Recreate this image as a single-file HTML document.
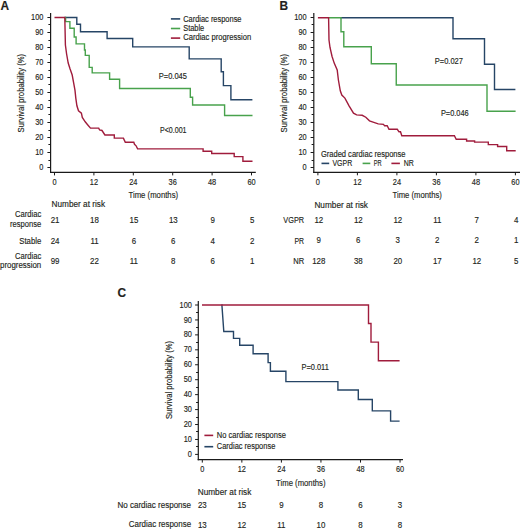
<!DOCTYPE html>
<html><head><meta charset="utf-8"><style>
html,body{margin:0;padding:0;background:#fff;}
svg{display:block;}
text{font-family:"Liberation Sans",sans-serif;fill:#231f20;stroke:#231f20;stroke-width:0.15;}
</style></head><body>
<svg width="520" height="530" viewBox="0 0 520 530">
<rect width="520" height="530" fill="#fff"/>
<line x1="50.60" y1="13.00" x2="50.60" y2="173.00" stroke="#1a1a1a" stroke-width="1.2"/>
<line x1="50.00" y1="172.40" x2="255.80" y2="172.40" stroke="#1a1a1a" stroke-width="1.2"/>
<line x1="47.40" y1="167.50" x2="50.60" y2="167.50" stroke="#1a1a1a" stroke-width="1.0"/>
<text x="43.40" y="170.10" font-size="8.5" text-anchor="end" textLength="4.11" lengthAdjust="spacingAndGlyphs">0</text>
<line x1="48.40" y1="160.50" x2="50.60" y2="160.50" stroke="#1a1a1a" stroke-width="1.0"/>
<line x1="47.40" y1="152.50" x2="50.60" y2="152.50" stroke="#1a1a1a" stroke-width="1.0"/>
<text x="43.40" y="155.10" font-size="8.5" text-anchor="end" textLength="8.22" lengthAdjust="spacingAndGlyphs">10</text>
<line x1="48.40" y1="144.50" x2="50.60" y2="144.50" stroke="#1a1a1a" stroke-width="1.0"/>
<line x1="47.40" y1="137.50" x2="50.60" y2="137.50" stroke="#1a1a1a" stroke-width="1.0"/>
<text x="43.40" y="140.10" font-size="8.5" text-anchor="end" textLength="8.22" lengthAdjust="spacingAndGlyphs">20</text>
<line x1="48.40" y1="130.50" x2="50.60" y2="130.50" stroke="#1a1a1a" stroke-width="1.0"/>
<line x1="47.40" y1="122.50" x2="50.60" y2="122.50" stroke="#1a1a1a" stroke-width="1.0"/>
<text x="43.40" y="125.10" font-size="8.5" text-anchor="end" textLength="8.22" lengthAdjust="spacingAndGlyphs">30</text>
<line x1="48.40" y1="114.50" x2="50.60" y2="114.50" stroke="#1a1a1a" stroke-width="1.0"/>
<line x1="47.40" y1="107.50" x2="50.60" y2="107.50" stroke="#1a1a1a" stroke-width="1.0"/>
<text x="43.40" y="110.10" font-size="8.5" text-anchor="end" textLength="8.22" lengthAdjust="spacingAndGlyphs">40</text>
<line x1="48.40" y1="100.50" x2="50.60" y2="100.50" stroke="#1a1a1a" stroke-width="1.0"/>
<line x1="47.40" y1="92.50" x2="50.60" y2="92.50" stroke="#1a1a1a" stroke-width="1.0"/>
<text x="43.40" y="95.10" font-size="8.5" text-anchor="end" textLength="8.22" lengthAdjust="spacingAndGlyphs">50</text>
<line x1="48.40" y1="84.50" x2="50.60" y2="84.50" stroke="#1a1a1a" stroke-width="1.0"/>
<line x1="47.40" y1="77.50" x2="50.60" y2="77.50" stroke="#1a1a1a" stroke-width="1.0"/>
<text x="43.40" y="80.10" font-size="8.5" text-anchor="end" textLength="8.22" lengthAdjust="spacingAndGlyphs">60</text>
<line x1="48.40" y1="70.50" x2="50.60" y2="70.50" stroke="#1a1a1a" stroke-width="1.0"/>
<line x1="47.40" y1="62.50" x2="50.60" y2="62.50" stroke="#1a1a1a" stroke-width="1.0"/>
<text x="43.40" y="65.10" font-size="8.5" text-anchor="end" textLength="8.22" lengthAdjust="spacingAndGlyphs">70</text>
<line x1="48.40" y1="54.50" x2="50.60" y2="54.50" stroke="#1a1a1a" stroke-width="1.0"/>
<line x1="47.40" y1="47.50" x2="50.60" y2="47.50" stroke="#1a1a1a" stroke-width="1.0"/>
<text x="43.40" y="50.10" font-size="8.5" text-anchor="end" textLength="8.22" lengthAdjust="spacingAndGlyphs">80</text>
<line x1="48.40" y1="40.50" x2="50.60" y2="40.50" stroke="#1a1a1a" stroke-width="1.0"/>
<line x1="47.40" y1="32.50" x2="50.60" y2="32.50" stroke="#1a1a1a" stroke-width="1.0"/>
<text x="43.40" y="35.10" font-size="8.5" text-anchor="end" textLength="8.22" lengthAdjust="spacingAndGlyphs">90</text>
<line x1="48.40" y1="24.50" x2="50.60" y2="24.50" stroke="#1a1a1a" stroke-width="1.0"/>
<line x1="47.40" y1="17.50" x2="50.60" y2="17.50" stroke="#1a1a1a" stroke-width="1.0"/>
<text x="43.40" y="20.10" font-size="8.5" text-anchor="end" textLength="12.34" lengthAdjust="spacingAndGlyphs">100</text>
<line x1="54.50" y1="172.40" x2="54.50" y2="175.40" stroke="#1a1a1a" stroke-width="1.0"/>
<text x="54.50" y="184.70" font-size="8.5" text-anchor="middle" textLength="4.11" lengthAdjust="spacingAndGlyphs">0</text>
<line x1="93.90" y1="172.40" x2="93.90" y2="175.40" stroke="#1a1a1a" stroke-width="1.0"/>
<text x="93.90" y="184.70" font-size="8.5" text-anchor="middle" textLength="8.22" lengthAdjust="spacingAndGlyphs">12</text>
<line x1="133.30" y1="172.40" x2="133.30" y2="175.40" stroke="#1a1a1a" stroke-width="1.0"/>
<text x="133.30" y="184.70" font-size="8.5" text-anchor="middle" textLength="8.22" lengthAdjust="spacingAndGlyphs">24</text>
<line x1="172.70" y1="172.40" x2="172.70" y2="175.40" stroke="#1a1a1a" stroke-width="1.0"/>
<text x="172.70" y="184.70" font-size="8.5" text-anchor="middle" textLength="8.22" lengthAdjust="spacingAndGlyphs">36</text>
<line x1="212.10" y1="172.40" x2="212.10" y2="175.40" stroke="#1a1a1a" stroke-width="1.0"/>
<text x="212.10" y="184.70" font-size="8.5" text-anchor="middle" textLength="8.22" lengthAdjust="spacingAndGlyphs">48</text>
<line x1="251.50" y1="172.40" x2="251.50" y2="175.40" stroke="#1a1a1a" stroke-width="1.0"/>
<text x="251.50" y="184.70" font-size="8.5" text-anchor="middle" textLength="8.22" lengthAdjust="spacingAndGlyphs">60</text>
<text transform="translate(23.60,93.15) rotate(-90)" x="-39.25" y="0" font-size="8.2" textLength="78.50" lengthAdjust="spacingAndGlyphs">Survival probability (%)</text>
<text x="128.50" y="198.30" font-size="9.3" textLength="49.60" lengthAdjust="spacingAndGlyphs">Time (months)</text>
<path d="M64.3,17.5 H76.8 V24.2 H80.5 V31.8 H107.1 V38.5 H132.7 V46.9 H189.2 V58.9 H221.2 V71.8 H223.4 V85.6 H230.9 V99.8 H252.4" fill="none" stroke="#264566" stroke-width="1.4" stroke-linejoin="miter"/>
<path d="M65.0,17.5 H65.6 V21.6 H69.9 V28.2 H74.2 V37 H76.1 V43.9 H84.5 V50 H85.3 V55.4 H89.2 V67.4 H92.2 V72.9 H109.6 V79.3 H119.6 V88.5 H190.3 V97.2 H192.6 V105 H224.6 V115.5 H252.5" fill="none" stroke="#48a24c" stroke-width="1.4" stroke-linejoin="miter"/>
<path d="M54.5,17.5 H64.8 L65.4,45 L66.6,54 L68.2,63 L70.1,69 L72.2,75 L73.6,82.7 L75,90.4 L75.8,98.1 L76.9,105.8 L78.5,110.8 L81.4,113.2 L82.3,117.5 L85.2,121.8 L87.6,124.7 L90.5,128.1 H98.7 L99.6,130 L102,130.5 L104.9,135 H114.3 V138.1 H123.4 L124.2,139.9 L125.3,142.2 H133.8 L134.5,144.3 L136.1,145.8 L137.6,148.9 H203.1 V151.2 H211.7 V153.5 H234.2 V156.6 H242.9 V161.3 H252.5" fill="none" stroke="#a01c3c" stroke-width="1.4" stroke-linejoin="miter"/>
<line x1="170.90" y1="18.90" x2="180.20" y2="18.90" stroke="#264566" stroke-width="1.6"/>
<text x="183.20" y="21.60" font-size="8.3" textLength="58.30" lengthAdjust="spacingAndGlyphs">Cardiac response</text>
<line x1="170.90" y1="28.50" x2="180.20" y2="28.50" stroke="#48a24c" stroke-width="1.6"/>
<text x="183.20" y="31.00" font-size="8.3" textLength="21.00" lengthAdjust="spacingAndGlyphs">Stable</text>
<line x1="170.90" y1="38.10" x2="180.20" y2="38.10" stroke="#a01c3c" stroke-width="1.6"/>
<text x="183.20" y="40.40" font-size="8.3" textLength="68.00" lengthAdjust="spacingAndGlyphs">Cardiac progression</text>
<text x="158.80" y="78.60" font-size="8.3" textLength="28.10" lengthAdjust="spacingAndGlyphs">P=0.045</text>
<text x="160.00" y="132.60" font-size="8.3" textLength="26.50" lengthAdjust="spacingAndGlyphs">P&lt;0.001</text>
<text x="51.60" y="207.30" font-size="8.3" textLength="53.40" lengthAdjust="spacingAndGlyphs">Number at risk</text>
<text x="15.00" y="217.40" font-size="8.3" textLength="26.20" lengthAdjust="spacingAndGlyphs">Cardiac</text>
<text x="10.00" y="227.00" font-size="8.3" textLength="31.20" lengthAdjust="spacingAndGlyphs">response</text>
<text x="19.30" y="243.60" font-size="8.3" textLength="21.90" lengthAdjust="spacingAndGlyphs">Stable</text>
<text x="15.00" y="258.60" font-size="8.3" textLength="26.20" lengthAdjust="spacingAndGlyphs">Cardiac</text>
<text x="0.00" y="268.00" font-size="8.3" textLength="41.20" lengthAdjust="spacingAndGlyphs">progression</text>
<text x="55.10" y="222.60" font-size="9.1" text-anchor="middle" textLength="8.81" lengthAdjust="spacingAndGlyphs">21</text>
<text x="94.50" y="222.60" font-size="9.1" text-anchor="middle" textLength="8.81" lengthAdjust="spacingAndGlyphs">18</text>
<text x="133.90" y="222.60" font-size="9.1" text-anchor="middle" textLength="8.81" lengthAdjust="spacingAndGlyphs">15</text>
<text x="173.30" y="222.60" font-size="9.1" text-anchor="middle" textLength="8.81" lengthAdjust="spacingAndGlyphs">13</text>
<text x="212.70" y="222.60" font-size="9.1" text-anchor="middle" textLength="4.40" lengthAdjust="spacingAndGlyphs">9</text>
<text x="252.10" y="222.60" font-size="9.1" text-anchor="middle" textLength="4.40" lengthAdjust="spacingAndGlyphs">5</text>
<text x="55.10" y="243.60" font-size="9.1" text-anchor="middle" textLength="8.81" lengthAdjust="spacingAndGlyphs">24</text>
<text x="94.50" y="243.60" font-size="9.1" text-anchor="middle" textLength="8.22" lengthAdjust="spacingAndGlyphs">11</text>
<text x="133.90" y="243.60" font-size="9.1" text-anchor="middle" textLength="4.40" lengthAdjust="spacingAndGlyphs">6</text>
<text x="173.30" y="243.60" font-size="9.1" text-anchor="middle" textLength="4.40" lengthAdjust="spacingAndGlyphs">6</text>
<text x="212.70" y="243.60" font-size="9.1" text-anchor="middle" textLength="4.40" lengthAdjust="spacingAndGlyphs">4</text>
<text x="252.10" y="243.60" font-size="9.1" text-anchor="middle" textLength="4.40" lengthAdjust="spacingAndGlyphs">2</text>
<text x="55.10" y="263.90" font-size="9.1" text-anchor="middle" textLength="8.81" lengthAdjust="spacingAndGlyphs">99</text>
<text x="94.50" y="263.90" font-size="9.1" text-anchor="middle" textLength="8.81" lengthAdjust="spacingAndGlyphs">22</text>
<text x="133.90" y="263.90" font-size="9.1" text-anchor="middle" textLength="8.22" lengthAdjust="spacingAndGlyphs">11</text>
<text x="173.30" y="263.90" font-size="9.1" text-anchor="middle" textLength="4.40" lengthAdjust="spacingAndGlyphs">8</text>
<text x="212.70" y="263.90" font-size="9.1" text-anchor="middle" textLength="4.40" lengthAdjust="spacingAndGlyphs">6</text>
<text x="252.10" y="263.90" font-size="9.1" text-anchor="middle" textLength="4.40" lengthAdjust="spacingAndGlyphs">1</text>
<text x="0.40" y="10.00" font-size="11.9" font-weight="bold">A</text>
<line x1="313.80" y1="13.00" x2="313.80" y2="172.90" stroke="#1a1a1a" stroke-width="1.2"/>
<line x1="313.20" y1="172.30" x2="520.00" y2="172.30" stroke="#1a1a1a" stroke-width="1.2"/>
<line x1="310.60" y1="167.50" x2="313.80" y2="167.50" stroke="#1a1a1a" stroke-width="1.0"/>
<text x="306.60" y="170.10" font-size="8.5" text-anchor="end" textLength="4.11" lengthAdjust="spacingAndGlyphs">0</text>
<line x1="311.60" y1="160.50" x2="313.80" y2="160.50" stroke="#1a1a1a" stroke-width="1.0"/>
<line x1="310.60" y1="152.50" x2="313.80" y2="152.50" stroke="#1a1a1a" stroke-width="1.0"/>
<text x="306.60" y="155.10" font-size="8.5" text-anchor="end" textLength="8.22" lengthAdjust="spacingAndGlyphs">10</text>
<line x1="311.60" y1="144.50" x2="313.80" y2="144.50" stroke="#1a1a1a" stroke-width="1.0"/>
<line x1="310.60" y1="137.50" x2="313.80" y2="137.50" stroke="#1a1a1a" stroke-width="1.0"/>
<text x="306.60" y="140.10" font-size="8.5" text-anchor="end" textLength="8.22" lengthAdjust="spacingAndGlyphs">20</text>
<line x1="311.60" y1="130.50" x2="313.80" y2="130.50" stroke="#1a1a1a" stroke-width="1.0"/>
<line x1="310.60" y1="122.50" x2="313.80" y2="122.50" stroke="#1a1a1a" stroke-width="1.0"/>
<text x="306.60" y="125.10" font-size="8.5" text-anchor="end" textLength="8.22" lengthAdjust="spacingAndGlyphs">30</text>
<line x1="311.60" y1="114.50" x2="313.80" y2="114.50" stroke="#1a1a1a" stroke-width="1.0"/>
<line x1="310.60" y1="107.50" x2="313.80" y2="107.50" stroke="#1a1a1a" stroke-width="1.0"/>
<text x="306.60" y="110.10" font-size="8.5" text-anchor="end" textLength="8.22" lengthAdjust="spacingAndGlyphs">40</text>
<line x1="311.60" y1="100.50" x2="313.80" y2="100.50" stroke="#1a1a1a" stroke-width="1.0"/>
<line x1="310.60" y1="92.50" x2="313.80" y2="92.50" stroke="#1a1a1a" stroke-width="1.0"/>
<text x="306.60" y="95.10" font-size="8.5" text-anchor="end" textLength="8.22" lengthAdjust="spacingAndGlyphs">50</text>
<line x1="311.60" y1="84.50" x2="313.80" y2="84.50" stroke="#1a1a1a" stroke-width="1.0"/>
<line x1="310.60" y1="77.50" x2="313.80" y2="77.50" stroke="#1a1a1a" stroke-width="1.0"/>
<text x="306.60" y="80.10" font-size="8.5" text-anchor="end" textLength="8.22" lengthAdjust="spacingAndGlyphs">60</text>
<line x1="311.60" y1="70.50" x2="313.80" y2="70.50" stroke="#1a1a1a" stroke-width="1.0"/>
<line x1="310.60" y1="62.50" x2="313.80" y2="62.50" stroke="#1a1a1a" stroke-width="1.0"/>
<text x="306.60" y="65.10" font-size="8.5" text-anchor="end" textLength="8.22" lengthAdjust="spacingAndGlyphs">70</text>
<line x1="311.60" y1="54.50" x2="313.80" y2="54.50" stroke="#1a1a1a" stroke-width="1.0"/>
<line x1="310.60" y1="47.50" x2="313.80" y2="47.50" stroke="#1a1a1a" stroke-width="1.0"/>
<text x="306.60" y="50.10" font-size="8.5" text-anchor="end" textLength="8.22" lengthAdjust="spacingAndGlyphs">80</text>
<line x1="311.60" y1="40.50" x2="313.80" y2="40.50" stroke="#1a1a1a" stroke-width="1.0"/>
<line x1="310.60" y1="32.50" x2="313.80" y2="32.50" stroke="#1a1a1a" stroke-width="1.0"/>
<text x="306.60" y="35.10" font-size="8.5" text-anchor="end" textLength="8.22" lengthAdjust="spacingAndGlyphs">90</text>
<line x1="311.60" y1="24.50" x2="313.80" y2="24.50" stroke="#1a1a1a" stroke-width="1.0"/>
<line x1="310.60" y1="17.50" x2="313.80" y2="17.50" stroke="#1a1a1a" stroke-width="1.0"/>
<text x="306.60" y="20.10" font-size="8.5" text-anchor="end" textLength="12.34" lengthAdjust="spacingAndGlyphs">100</text>
<line x1="317.90" y1="172.30" x2="317.90" y2="175.30" stroke="#1a1a1a" stroke-width="1.0"/>
<text x="317.90" y="184.70" font-size="8.5" text-anchor="middle" textLength="4.11" lengthAdjust="spacingAndGlyphs">0</text>
<line x1="357.40" y1="172.30" x2="357.40" y2="175.30" stroke="#1a1a1a" stroke-width="1.0"/>
<text x="357.40" y="184.70" font-size="8.5" text-anchor="middle" textLength="8.22" lengthAdjust="spacingAndGlyphs">12</text>
<line x1="396.90" y1="172.30" x2="396.90" y2="175.30" stroke="#1a1a1a" stroke-width="1.0"/>
<text x="396.90" y="184.70" font-size="8.5" text-anchor="middle" textLength="8.22" lengthAdjust="spacingAndGlyphs">24</text>
<line x1="436.40" y1="172.30" x2="436.40" y2="175.30" stroke="#1a1a1a" stroke-width="1.0"/>
<text x="436.40" y="184.70" font-size="8.5" text-anchor="middle" textLength="8.22" lengthAdjust="spacingAndGlyphs">36</text>
<line x1="475.90" y1="172.30" x2="475.90" y2="175.30" stroke="#1a1a1a" stroke-width="1.0"/>
<text x="475.90" y="184.70" font-size="8.5" text-anchor="middle" textLength="8.22" lengthAdjust="spacingAndGlyphs">48</text>
<line x1="515.40" y1="172.30" x2="515.40" y2="175.30" stroke="#1a1a1a" stroke-width="1.0"/>
<text x="515.40" y="184.70" font-size="8.5" text-anchor="middle" textLength="8.22" lengthAdjust="spacingAndGlyphs">60</text>
<text transform="translate(287.20,93.15) rotate(-90)" x="-39.25" y="0" font-size="8.2" textLength="78.50" lengthAdjust="spacingAndGlyphs">Survival probability (%)</text>
<text x="392.50" y="198.40" font-size="9.3" textLength="49.40" lengthAdjust="spacingAndGlyphs">Time (months)</text>
<path d="M340.5,17.8 H453 V38.75 H484.5 V64.25 H494.5 V89.5 H515.4" fill="none" stroke="#264566" stroke-width="1.4" stroke-linejoin="miter"/>
<path d="M328.1,17.8 H341 V31.7 H343.8 V46.7 H371.3 V63.7 H396.25 V85.0 H487 V111.25 H515.6" fill="none" stroke="#48a24c" stroke-width="1.4" stroke-linejoin="miter"/>
<path d="M317.9,17.8 H328.6 L329,40 L330,47.5 L332,56.2 L334.2,63.1 L337.2,70 L338.4,80 L340.3,90.8 L341.8,95 L344.9,98.1 L349.2,106.1 L353.5,113.2 L356.6,114.9 L362.2,115.3 L365.8,117.2 L369.5,120.8 L373.8,122.3 L378.2,123.9 L383.5,124.3 L384.6,125.8 H387.2 L389,129.3 H397.3 L399,131.8 H400.5 L401.8,135.8 H454.4 L456.2,139.3 H466.6 V141 H474.6 V142.1 H488.3 V144.6 H497.6 V146.5 H506.7 V150.8 H515.7" fill="none" stroke="#a01c3c" stroke-width="1.4" stroke-linejoin="miter"/>
<text x="434.80" y="63.70" font-size="8.3" textLength="28.10" lengthAdjust="spacingAndGlyphs">P=0.027</text>
<text x="440.90" y="115.80" font-size="8.3" textLength="27.80" lengthAdjust="spacingAndGlyphs">P=0.046</text>
<text x="320.90" y="156.70" font-size="8.3" textLength="84.60" lengthAdjust="spacingAndGlyphs">Graded cardiac response</text>
<line x1="321.50" y1="163.40" x2="329.20" y2="163.40" stroke="#264566" stroke-width="1.6"/>
<text x="332.40" y="165.70" font-size="8.3" textLength="19.80" lengthAdjust="spacingAndGlyphs">VGPR</text>
<line x1="362.60" y1="163.40" x2="370.30" y2="163.40" stroke="#48a24c" stroke-width="1.6"/>
<text x="373.80" y="165.70" font-size="8.3" textLength="7.90" lengthAdjust="spacingAndGlyphs">PR</text>
<line x1="391.40" y1="163.40" x2="399.90" y2="163.40" stroke="#a01c3c" stroke-width="1.6"/>
<text x="403.80" y="165.70" font-size="8.3" textLength="10.10" lengthAdjust="spacingAndGlyphs">NR</text>
<text x="314.40" y="207.50" font-size="8.3" textLength="53.60" lengthAdjust="spacingAndGlyphs">Number at risk</text>
<text x="283.30" y="223.10" font-size="8.3" textLength="20.80" lengthAdjust="spacingAndGlyphs">VGPR</text>
<text x="294.50" y="243.60" font-size="8.3" textLength="9.60" lengthAdjust="spacingAndGlyphs">PR</text>
<text x="293.20" y="264.00" font-size="8.3" textLength="10.90" lengthAdjust="spacingAndGlyphs">NR</text>
<text x="318.80" y="222.80" font-size="9.1" text-anchor="middle" textLength="8.81" lengthAdjust="spacingAndGlyphs">12</text>
<text x="358.30" y="222.80" font-size="9.1" text-anchor="middle" textLength="8.81" lengthAdjust="spacingAndGlyphs">12</text>
<text x="397.80" y="222.80" font-size="9.1" text-anchor="middle" textLength="8.81" lengthAdjust="spacingAndGlyphs">12</text>
<text x="437.30" y="222.80" font-size="9.1" text-anchor="middle" textLength="8.22" lengthAdjust="spacingAndGlyphs">11</text>
<text x="476.80" y="222.80" font-size="9.1" text-anchor="middle" textLength="4.40" lengthAdjust="spacingAndGlyphs">7</text>
<text x="516.30" y="222.80" font-size="9.1" text-anchor="middle" textLength="4.40" lengthAdjust="spacingAndGlyphs">4</text>
<text x="318.80" y="243.30" font-size="9.1" text-anchor="middle" textLength="4.40" lengthAdjust="spacingAndGlyphs">9</text>
<text x="358.30" y="243.30" font-size="9.1" text-anchor="middle" textLength="4.40" lengthAdjust="spacingAndGlyphs">6</text>
<text x="397.80" y="243.30" font-size="9.1" text-anchor="middle" textLength="4.40" lengthAdjust="spacingAndGlyphs">3</text>
<text x="437.30" y="243.30" font-size="9.1" text-anchor="middle" textLength="4.40" lengthAdjust="spacingAndGlyphs">2</text>
<text x="476.80" y="243.30" font-size="9.1" text-anchor="middle" textLength="4.40" lengthAdjust="spacingAndGlyphs">2</text>
<text x="516.30" y="243.30" font-size="9.1" text-anchor="middle" textLength="4.40" lengthAdjust="spacingAndGlyphs">1</text>
<text x="318.80" y="263.80" font-size="9.1" text-anchor="middle" textLength="13.21" lengthAdjust="spacingAndGlyphs">128</text>
<text x="358.30" y="263.80" font-size="9.1" text-anchor="middle" textLength="8.81" lengthAdjust="spacingAndGlyphs">38</text>
<text x="397.80" y="263.80" font-size="9.1" text-anchor="middle" textLength="8.81" lengthAdjust="spacingAndGlyphs">20</text>
<text x="437.30" y="263.80" font-size="9.1" text-anchor="middle" textLength="8.81" lengthAdjust="spacingAndGlyphs">17</text>
<text x="476.80" y="263.80" font-size="9.1" text-anchor="middle" textLength="8.81" lengthAdjust="spacingAndGlyphs">12</text>
<text x="516.30" y="263.80" font-size="9.1" text-anchor="middle" textLength="4.40" lengthAdjust="spacingAndGlyphs">5</text>
<text x="279.60" y="10.00" font-size="11.9" font-weight="bold">B</text>
<line x1="198.30" y1="301.00" x2="198.30" y2="460.20" stroke="#1a1a1a" stroke-width="1.2"/>
<line x1="197.70" y1="459.60" x2="403.00" y2="459.60" stroke="#1a1a1a" stroke-width="1.2"/>
<line x1="195.10" y1="454.40" x2="198.30" y2="454.40" stroke="#1a1a1a" stroke-width="1.0"/>
<text x="191.90" y="457.00" font-size="8.5" text-anchor="end" textLength="4.11" lengthAdjust="spacingAndGlyphs">0</text>
<line x1="196.10" y1="446.50" x2="198.30" y2="446.50" stroke="#1a1a1a" stroke-width="1.0"/>
<line x1="195.10" y1="439.46" x2="198.30" y2="439.46" stroke="#1a1a1a" stroke-width="1.0"/>
<text x="191.90" y="442.06" font-size="8.5" text-anchor="end" textLength="8.22" lengthAdjust="spacingAndGlyphs">10</text>
<line x1="196.10" y1="431.50" x2="198.30" y2="431.50" stroke="#1a1a1a" stroke-width="1.0"/>
<line x1="195.10" y1="424.52" x2="198.30" y2="424.52" stroke="#1a1a1a" stroke-width="1.0"/>
<text x="191.90" y="427.12" font-size="8.5" text-anchor="end" textLength="8.22" lengthAdjust="spacingAndGlyphs">20</text>
<line x1="196.10" y1="417.50" x2="198.30" y2="417.50" stroke="#1a1a1a" stroke-width="1.0"/>
<line x1="195.10" y1="409.58" x2="198.30" y2="409.58" stroke="#1a1a1a" stroke-width="1.0"/>
<text x="191.90" y="412.18" font-size="8.5" text-anchor="end" textLength="8.22" lengthAdjust="spacingAndGlyphs">30</text>
<line x1="196.10" y1="402.50" x2="198.30" y2="402.50" stroke="#1a1a1a" stroke-width="1.0"/>
<line x1="195.10" y1="394.64" x2="198.30" y2="394.64" stroke="#1a1a1a" stroke-width="1.0"/>
<text x="191.90" y="397.24" font-size="8.5" text-anchor="end" textLength="8.22" lengthAdjust="spacingAndGlyphs">40</text>
<line x1="196.10" y1="387.50" x2="198.30" y2="387.50" stroke="#1a1a1a" stroke-width="1.0"/>
<line x1="195.10" y1="379.70" x2="198.30" y2="379.70" stroke="#1a1a1a" stroke-width="1.0"/>
<text x="191.90" y="382.30" font-size="8.5" text-anchor="end" textLength="8.22" lengthAdjust="spacingAndGlyphs">50</text>
<line x1="196.10" y1="372.50" x2="198.30" y2="372.50" stroke="#1a1a1a" stroke-width="1.0"/>
<line x1="195.10" y1="364.76" x2="198.30" y2="364.76" stroke="#1a1a1a" stroke-width="1.0"/>
<text x="191.90" y="367.36" font-size="8.5" text-anchor="end" textLength="8.22" lengthAdjust="spacingAndGlyphs">60</text>
<line x1="196.10" y1="357.50" x2="198.30" y2="357.50" stroke="#1a1a1a" stroke-width="1.0"/>
<line x1="195.10" y1="349.82" x2="198.30" y2="349.82" stroke="#1a1a1a" stroke-width="1.0"/>
<text x="191.90" y="352.42" font-size="8.5" text-anchor="end" textLength="8.22" lengthAdjust="spacingAndGlyphs">70</text>
<line x1="196.10" y1="342.50" x2="198.30" y2="342.50" stroke="#1a1a1a" stroke-width="1.0"/>
<line x1="195.10" y1="334.88" x2="198.30" y2="334.88" stroke="#1a1a1a" stroke-width="1.0"/>
<text x="191.90" y="337.48" font-size="8.5" text-anchor="end" textLength="8.22" lengthAdjust="spacingAndGlyphs">80</text>
<line x1="196.10" y1="327.50" x2="198.30" y2="327.50" stroke="#1a1a1a" stroke-width="1.0"/>
<line x1="195.10" y1="319.94" x2="198.30" y2="319.94" stroke="#1a1a1a" stroke-width="1.0"/>
<text x="191.90" y="322.54" font-size="8.5" text-anchor="end" textLength="8.22" lengthAdjust="spacingAndGlyphs">90</text>
<line x1="196.10" y1="312.50" x2="198.30" y2="312.50" stroke="#1a1a1a" stroke-width="1.0"/>
<line x1="195.10" y1="305.00" x2="198.30" y2="305.00" stroke="#1a1a1a" stroke-width="1.0"/>
<text x="191.90" y="307.60" font-size="8.5" text-anchor="end" textLength="12.34" lengthAdjust="spacingAndGlyphs">100</text>
<line x1="202.30" y1="459.60" x2="202.30" y2="462.60" stroke="#1a1a1a" stroke-width="1.0"/>
<text x="202.30" y="472.00" font-size="8.5" text-anchor="middle" textLength="4.11" lengthAdjust="spacingAndGlyphs">0</text>
<line x1="241.85" y1="459.60" x2="241.85" y2="462.60" stroke="#1a1a1a" stroke-width="1.0"/>
<text x="241.85" y="472.00" font-size="8.5" text-anchor="middle" textLength="8.22" lengthAdjust="spacingAndGlyphs">12</text>
<line x1="281.40" y1="459.60" x2="281.40" y2="462.60" stroke="#1a1a1a" stroke-width="1.0"/>
<text x="281.40" y="472.00" font-size="8.5" text-anchor="middle" textLength="8.22" lengthAdjust="spacingAndGlyphs">24</text>
<line x1="320.95" y1="459.60" x2="320.95" y2="462.60" stroke="#1a1a1a" stroke-width="1.0"/>
<text x="320.95" y="472.00" font-size="8.5" text-anchor="middle" textLength="8.22" lengthAdjust="spacingAndGlyphs">36</text>
<line x1="360.50" y1="459.60" x2="360.50" y2="462.60" stroke="#1a1a1a" stroke-width="1.0"/>
<text x="360.50" y="472.00" font-size="8.5" text-anchor="middle" textLength="8.22" lengthAdjust="spacingAndGlyphs">48</text>
<line x1="400.05" y1="459.60" x2="400.05" y2="462.60" stroke="#1a1a1a" stroke-width="1.0"/>
<text x="400.05" y="472.00" font-size="8.5" text-anchor="middle" textLength="8.22" lengthAdjust="spacingAndGlyphs">60</text>
<text transform="translate(171.60,380.00) rotate(-90)" x="-39.00" y="0" font-size="8.2" textLength="78.00" lengthAdjust="spacingAndGlyphs">Survival probability (%)</text>
<text x="276.10" y="485.80" font-size="9.3" textLength="49.40" lengthAdjust="spacingAndGlyphs">Time (months)</text>
<path d="M221.4,305 H221.9 L223.8,331.5 H233.5 V338.4 H239.7 V345.3 H253.1 V353.8 H268.1 V362.6 H270.4 V371.2 H285.9 V381.6 H337.9 V390 H358.3 V399.5 H372.3 V410.9 H390.6 V421.1 H399.6" fill="none" stroke="#264566" stroke-width="1.4" stroke-linejoin="miter"/>
<path d="M202,305 H368.5 V323.5 H371 V342.1 H378.4 V360.7 H399.6" fill="none" stroke="#a01c3c" stroke-width="1.4" stroke-linejoin="miter"/>
<text x="301.50" y="369.50" font-size="8.3" textLength="27.30" lengthAdjust="spacingAndGlyphs">P=0.011</text>
<line x1="204.40" y1="435.40" x2="213.20" y2="435.40" stroke="#a01c3c" stroke-width="1.6"/>
<text x="216.80" y="438.00" font-size="8.3" textLength="69.20" lengthAdjust="spacingAndGlyphs">No cardiac response</text>
<line x1="204.40" y1="446.70" x2="213.20" y2="446.70" stroke="#264566" stroke-width="1.6"/>
<text x="216.80" y="449.20" font-size="8.3" textLength="58.50" lengthAdjust="spacingAndGlyphs">Cardiac response</text>
<text x="197.70" y="494.50" font-size="8.3" textLength="53.60" lengthAdjust="spacingAndGlyphs">Number at risk</text>
<text x="117.40" y="507.60" font-size="8.3" textLength="73.70" lengthAdjust="spacingAndGlyphs">No cardiac response</text>
<text x="128.80" y="527.00" font-size="8.3" textLength="62.30" lengthAdjust="spacingAndGlyphs">Cardiac response</text>
<text x="202.30" y="508.00" font-size="9.1" text-anchor="middle" textLength="8.81" lengthAdjust="spacingAndGlyphs">23</text>
<text x="241.85" y="508.00" font-size="9.1" text-anchor="middle" textLength="8.81" lengthAdjust="spacingAndGlyphs">15</text>
<text x="281.40" y="508.00" font-size="9.1" text-anchor="middle" textLength="4.40" lengthAdjust="spacingAndGlyphs">9</text>
<text x="320.95" y="508.00" font-size="9.1" text-anchor="middle" textLength="4.40" lengthAdjust="spacingAndGlyphs">8</text>
<text x="360.50" y="508.00" font-size="9.1" text-anchor="middle" textLength="4.40" lengthAdjust="spacingAndGlyphs">6</text>
<text x="400.05" y="508.00" font-size="9.1" text-anchor="middle" textLength="4.40" lengthAdjust="spacingAndGlyphs">3</text>
<text x="202.30" y="527.60" font-size="9.1" text-anchor="middle" textLength="8.81" lengthAdjust="spacingAndGlyphs">13</text>
<text x="241.85" y="527.60" font-size="9.1" text-anchor="middle" textLength="8.81" lengthAdjust="spacingAndGlyphs">12</text>
<text x="281.40" y="527.60" font-size="9.1" text-anchor="middle" textLength="8.22" lengthAdjust="spacingAndGlyphs">11</text>
<text x="320.95" y="527.60" font-size="9.1" text-anchor="middle" textLength="8.81" lengthAdjust="spacingAndGlyphs">10</text>
<text x="360.50" y="527.60" font-size="9.1" text-anchor="middle" textLength="4.40" lengthAdjust="spacingAndGlyphs">8</text>
<text x="400.05" y="527.60" font-size="9.1" text-anchor="middle" textLength="4.40" lengthAdjust="spacingAndGlyphs">8</text>
<text x="117.60" y="297.00" font-size="11.9" font-weight="bold">C</text>
</svg>
</body></html>
